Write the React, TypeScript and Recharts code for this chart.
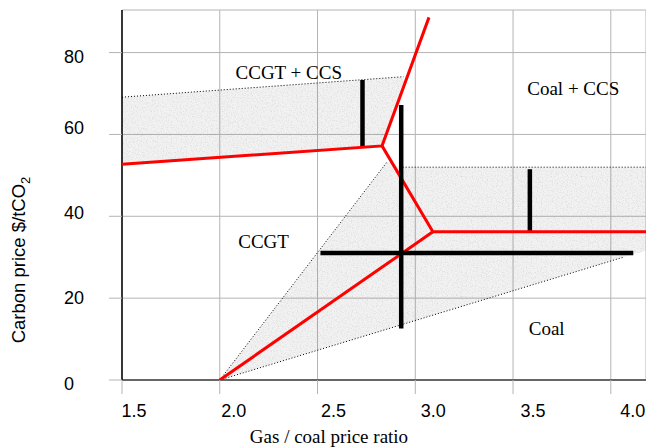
import React from 'react';
import { ComposedChart, XAxis, YAxis, CartesianGrid, Scatter, Area } from 'recharts';

const X_TICKS = [1.5, 2.0, 2.5, 3.0, 3.5, 4.0];
const Y_TICKS = [0, 20, 40, 60, 80];

// shaded uncertainty bands: [low, high] at each x
const ccsBand = [
  { x: 1.5, r: [52.7, 69.1] },
  { x: 2.83, r: [57.2, 73.8] },
  { x: 2.94, r: [71.6, 74.1] },
];
const coalBand = [
  { x: 2.0, r: [0, 0] },
  { x: 2.856, r: [12.4, 53.3] },
  { x: 2.92, r: [13.4, 52.0] },
  { x: 4.064, r: [30.0, 52.0] },
  { x: 4.18, r: [31.6, 52.0] },
];

// red boundary lines
const redUpper = [
  { x: 1.5, y: 52.7 },
  { x: 2.83, y: 57.2 },
  { x: 3.07, y: 88.6 },
];
const redMiddle = [
  { x: 2.83, y: 57.2 },
  { x: 3.09, y: 36.2 },
  { x: 4.18, y: 36.2 },
];
const redLower = [
  { x: 2.0, y: 0 },
  { x: 3.09, y: 36.2 },
];

// black error bars
const errCcs = [
  { x: 2.73, y: 56.9 },
  { x: 2.73, y: 73.3 },
];
const errCrossV = [
  { x: 2.928, y: 12.6 },
  { x: 2.928, y: 67.2 },
];
const errCrossH = [
  { x: 2.515, y: 31.0 },
  { x: 4.115, y: 31.0 },
];
const errCoal = [
  { x: 3.586, y: 36.4 },
  { x: 3.586, y: 51.5 },
];

// dotted band borders
const dotCcsTop = [
  { x: 1.5, y: 69.1 },
  { x: 2.94, y: 74.1 },
];
const dotCoalLeft = [
  { x: 2.0, y: 0 },
  { x: 2.856, y: 53.3 },
];
const dotCoalTop = [
  { x: 2.92, y: 52.0 },
  { x: 4.18, y: 52.0 },
];
const dotCoalBottom = [
  { x: 2.0, y: 0 },
  { x: 4.064, y: 30.0 },
];

const regionLabels = [
  { x: 2.353, y: 75.1, text: 'CCGT + CCS' },
  { x: 3.808, y: 71.3, text: 'Coal + CCS' },
  { x: 2.224, y: 33.8, text: 'CCGT' },
  { x: 3.672, y: 12.6, text: 'Coal' },
];

const SANS = '"Liberation Sans", Arial, sans-serif';
const SERIF = '"Liberation Serif", "Times New Roman", serif';

const Y_LABEL_SHIFT: Record<number, number> = { 0: 10, 20: 6.3, 40: 3, 60: -0.3, 80: 10 };

const NoDot = () => <g />;

const XTick = (p: any) => {
  const v = p.payload.value as number;
  return (
    <text x={p.x + 12 + (v - 1.5) * 4} y={p.y + 21} textAnchor="middle" fontSize={18} fontFamily={SANS} fill="#000">
      {v.toFixed(1)}
    </text>
  );
};

const YTick = (p: any) => {
  const v = p.payload.value as number;
  return (
    <text x={64} y={p.y + (Y_LABEL_SHIFT[v] ?? 6)} textAnchor="start" fontSize={18} fontFamily={SANS} fill="#000">
      {String(v)}
    </text>
  );
};

const RegionText = (p: any) => (
  <text x={p.cx} y={p.cy} textAnchor="middle" dominantBaseline="central" fontSize={19} fontFamily={SERIF} fill="#000">
    {p.payload.text}
  </text>
);

const XLabel = (p: any) => {
  const vb = p.viewBox;
  return (
    <text x={vb.x + 207} y={vb.y + 63} textAnchor="middle" fontSize={19} fontFamily={SERIF} fill="#000">
      Gas / coal price ratio
    </text>
  );
};

const YLabel = () => (
  <text x={0} y={0} transform="translate(25,260) rotate(-90)" textAnchor="middle" fontSize={18.5} fontFamily={SANS} fill="#000">
    Carbon price $/tCO
    <tspan fontSize={13} dy={5}>2</tspan>
  </text>
);

const redLine = { stroke: '#ff0000', strokeWidth: 3 };
const blackLine = { stroke: '#000', strokeWidth: 4.5 };
const dotLine = { stroke: '#000', strokeWidth: 1, strokeDasharray: '1 2' };

export default function App() {
  return (
    <div style={{ position: 'absolute', left: 0, top: 0, background: '#fff' }}>
      <ComposedChart width={646} height={448} margin={{ top: 10, right: 0, bottom: 0, left: 0 }}>
        <defs>
          <filter id="speckFilter" x="0" y="0" width="1" height="1">
            <feTurbulence type="fractalNoise" baseFrequency="0.8" numOctaves="2" seed="4" stitchTiles="stitch" result="n" />
            <feColorMatrix in="n" type="matrix" values="0 0 0 0 0.5  0 0 0 0 0.5  0 0 0 0 0.5  1.0 0 0 0 -0.46" />
          </filter>
          <pattern id="speckle" patternUnits="userSpaceOnUse" width="120" height="120">
            <rect width="120" height="120" fill="#000" fillOpacity="0.05" />
            <rect width="120" height="120" filter="url(#speckFilter)" />
          </pattern>
        </defs>
        <CartesianGrid stroke="#b4b4b4" strokeWidth={1} />
        <XAxis
          type="number"
          dataKey="x"
          domain={[1.5, 4.18]}
          ticks={X_TICKS}
          allowDataOverflow
          height={68}
          tickSize={14}
          tickMargin={2}
          tickLine={{ stroke: '#b4b4b4' }}
          axisLine={{ stroke: '#666', strokeWidth: 2 }}
          tick={XTick}
          label={{ content: XLabel }}
        />
        <YAxis
          type="number"
          dataKey="y"
          domain={[0, 90.4]}
          ticks={Y_TICKS}
          allowDataOverflow
          width={122}
          tickSize={13}
          tickMargin={2}
          tickLine={{ stroke: '#b4b4b4' }}
          axisLine={{ stroke: '#000', strokeWidth: 1.5 }}
          tick={YTick}
          label={{ content: YLabel }}
        />
        <Area data={ccsBand} dataKey="r" type="linear" stroke="none" fill="url(#speckle)" fillOpacity={1} isAnimationActive={false} dot={false} activeDot={false} />
        <Area data={coalBand} dataKey="r" type="linear" stroke="none" fill="url(#speckle)" fillOpacity={1} isAnimationActive={false} dot={false} activeDot={false} />
        <Scatter data={dotCcsTop} line={dotLine} shape={NoDot} isAnimationActive={false} />
        <Scatter data={dotCoalLeft} line={dotLine} shape={NoDot} isAnimationActive={false} />
        <Scatter data={dotCoalTop} line={dotLine} shape={NoDot} isAnimationActive={false} />
        <Scatter data={dotCoalBottom} line={dotLine} shape={NoDot} isAnimationActive={false} />
        <Scatter data={errCcs} line={blackLine} shape={NoDot} isAnimationActive={false} />
        <Scatter data={errCoal} line={blackLine} shape={NoDot} isAnimationActive={false} />
        <Scatter data={redUpper} line={redLine} shape={NoDot} isAnimationActive={false} />
        <Scatter data={redMiddle} line={redLine} shape={NoDot} isAnimationActive={false} />
        <Scatter data={redLower} line={redLine} shape={NoDot} isAnimationActive={false} />
        <Scatter data={errCrossV} line={blackLine} shape={NoDot} isAnimationActive={false} />
        <Scatter data={errCrossH} line={blackLine} shape={NoDot} isAnimationActive={false} />
        <Scatter data={regionLabels} shape={RegionText} isAnimationActive={false} />
      </ComposedChart>
    </div>
  );
}
